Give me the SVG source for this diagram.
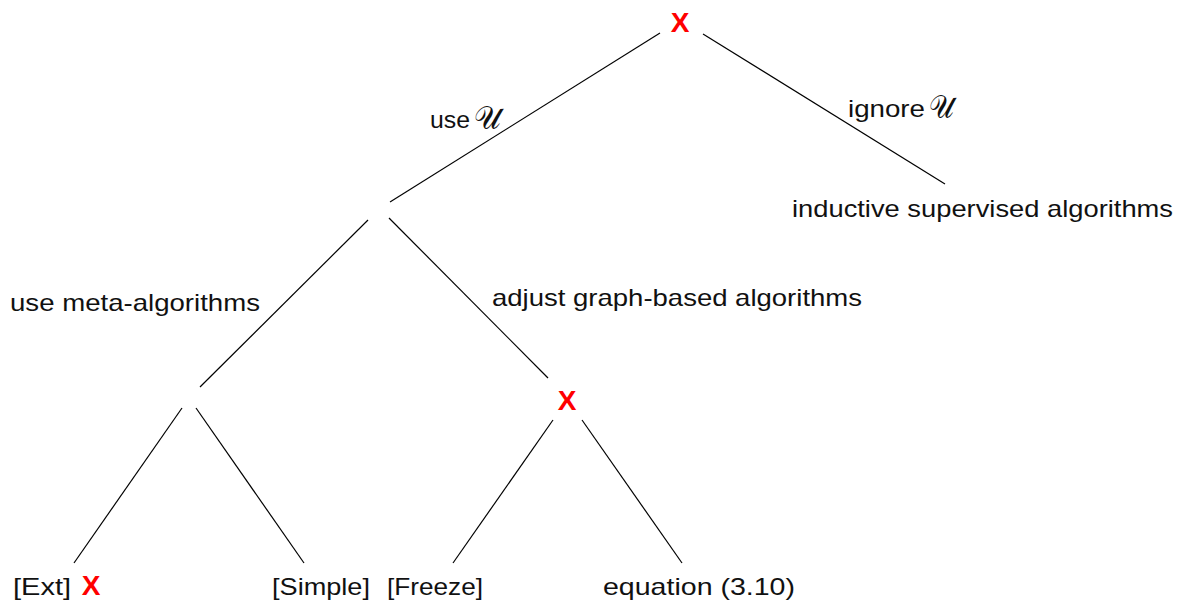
<svg xmlns="http://www.w3.org/2000/svg" width="1185" height="604" viewBox="0 0 1185 604">
<style>
.t{font-family:"Liberation Sans","DejaVu Sans",sans-serif;font-size:24px;fill:#111}
.x{font-family:"Liberation Sans","DejaVu Sans",sans-serif;font-size:28px;font-weight:bold;fill:#ff0000}
.u{font-family:"DejaVu Sans","DejaVu Serif",serif;font-size:32px;fill:#111}
.e{stroke:#000;stroke-width:1.2;fill:none}
</style>
<rect width="1185" height="604" fill="#fff"/>
<g id="connectors">
<line class="e" x1="660" y1="33" x2="390" y2="202"/>
<line class="e" x1="703" y1="34" x2="945" y2="184"/>
<line class="e" x1="368" y1="220" x2="200" y2="387"/>
<line class="e" x1="389" y1="218" x2="548" y2="378"/>
<line class="e" x1="182" y1="408" x2="74" y2="563"/>
<line class="e" x1="196" y1="408" x2="304" y2="563"/>
<line class="e" x1="553" y1="420" x2="453" y2="563"/>
<line class="e" x1="582" y1="420" x2="682" y2="563"/>
</g>
<g id="edge-labels">
<text class="t" x="430" y="128" textLength="40" lengthAdjust="spacingAndGlyphs">use</text>
<text class="u" x="474" y="129" textLength="27" lengthAdjust="spacingAndGlyphs">𝒰</text>
<text class="t" x="848" y="117" textLength="77" lengthAdjust="spacingAndGlyphs">ignore</text>
<text class="u" x="929" y="118" textLength="25" lengthAdjust="spacingAndGlyphs">𝒰</text>
<text class="t" x="10" y="311" textLength="250" lengthAdjust="spacingAndGlyphs">use meta-algorithms</text>
<text class="t" x="492" y="306" textLength="370" lengthAdjust="spacingAndGlyphs">adjust graph-based algorithms</text>
</g>
<g id="root"><text class="x" x="680" y="32" text-anchor="middle">X</text></g>
<g id="n-use"></g>
<g id="n-meta"></g>
<g id="n-graph"><text class="x" x="567" y="410" text-anchor="middle">X</text></g>
<g id="n-inductive"><text class="t" x="792" y="217" textLength="381" lengthAdjust="spacingAndGlyphs">inductive supervised algorithms</text></g>
<g id="n-ext"><text class="t" x="13" y="595" textLength="58" lengthAdjust="spacingAndGlyphs">[Ext]</text><text class="x" x="91" y="595" text-anchor="middle">X</text></g>
<g id="n-simple"><text class="t" x="272" y="595" textLength="98" lengthAdjust="spacingAndGlyphs">[Simple]</text></g>
<g id="n-freeze"><text class="t" x="387" y="595" textLength="96" lengthAdjust="spacingAndGlyphs">[Freeze]</text></g>
<g id="n-eq"><text class="t" x="603" y="595" textLength="192" lengthAdjust="spacingAndGlyphs">equation (3.10)</text></g>
</svg>
